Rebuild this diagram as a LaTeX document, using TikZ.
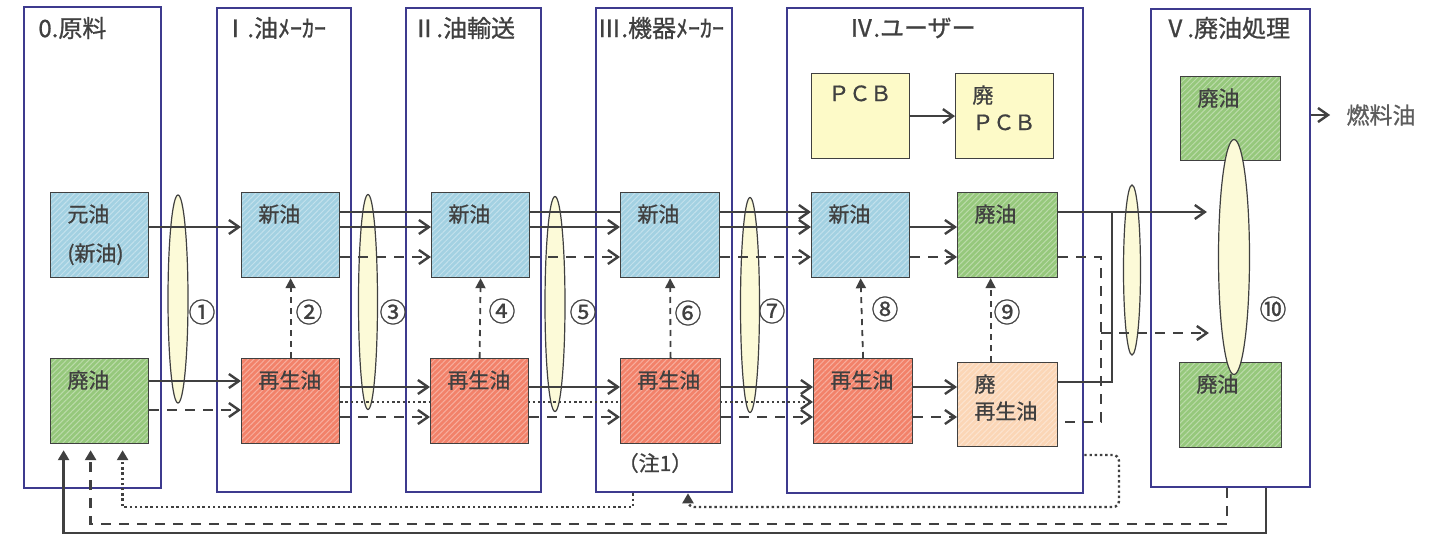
\documentclass[tikz,border=0pt]{standalone}
\usepackage{fontspec}
\setmainfont{Noto Sans CJK JP}[RawFeature={embolden=0.9}]
\usetikzlibrary{arrows.meta,fit,shapes.geometric,patterns.meta}

\definecolor{ink}{HTML}{404040}
\definecolor{frame}{HTML}{3D3A8E}
\definecolor{newblue}{HTML}{A3D1E2}
\definecolor{wastegreen}{HTML}{96C87C}
\definecolor{regenred}{HTML}{F2826A}
\definecolor{peach}{HTML}{FBD6B6}
\definecolor{pcbyellow}{HTML}{FDFAC8}
\definecolor{lensy}{HTML}{FCFAD8}

\pgfdeclarelayer{bg}
\pgfdeclarelayer{mid}
\pgfdeclarelayer{fg}
\pgfsetlayers{bg,mid,main,fg}

\tikzset{
  stage/.style={draw=frame, line width=1.3pt, inner sep=0pt},
  ttl/.style={anchor=west, inner sep=0pt, text=ink, font=\fontsize{12}{14}\selectfont},
  obox/.style={draw=ink, line width=0.6pt, anchor=north west, inner sep=0pt, minimum width=49pt, minimum height=42.5pt},
  hatch/.style={obox, preaction={fill=#1}, pattern={Lines[angle=45,distance=2pt,line width=0.5pt]}, pattern color=white!35!#1},
  otxt/.style={anchor=north west, inner sep=0pt, xshift=8.5pt, yshift=-6pt, align=left, text=ink, font=\fontsize{10.5}{13.5}\selectfont},
  lens/.style={ellipse, draw=ink, line width=0.6pt, fill=lensy, inner sep=0pt},
  num/.style={text=ink, inner sep=0pt, font=\fontsize{13.5}{14}\selectfont},
  flow/.style={draw=ink, line width=1.2pt, -{Straight Barb[length=5pt,width=7pt]}},
  fdash/.style={flow, dash pattern=on 5pt off 4pt},
  fdot/.style={flow, dash pattern=on 1.2pt off 1.4pt},
  wire/.style={draw=ink, line width=1.2pt},
  dwire/.style={wire, dash pattern=on 5pt off 4pt},
  recyc/.style={draw=ink, line width=0.9pt, dash pattern=on 3pt off 2.5pt, -{Triangle[length=5pt,width=5pt]}},
  back/.style={draw=ink, line width=1.2pt, -{Triangle[length=5pt,width=5.5pt]}},
}

\begin{document}
\begin{tikzpicture}[x=0.5pt,y=-0.5pt]

\useasboundingbox (0,0) rectangle (1447,534);

\begin{pgfonlayer}{bg}
\node[stage, fit={(24,7) (161,488)}] (s0) {};
\node[stage, fit={(217,8) (351,492)}] (s1) {};
\node[stage, fit={(406,8) (541,492)}] (s2) {};
\node[stage, fit={(596,8) (732,492)}] (s3) {};
\node[stage, fit={(787,8) (1083,493)}] (s4) {};
\node[stage, fit={(1151,9) (1310,487)}] (s5) {};

\node[lens, minimum width=10pt, minimum height=104pt] (g1) at (178,299) {};
\node[lens, minimum width=9.5pt, minimum height=107.5pt] (g2) at (368,302) {};
\node[lens, minimum width=10pt, minimum height=107.5pt] (g3) at (555,304) {};
\node[lens, minimum width=9.5pt, minimum height=107.5pt] (g4) at (750,305) {};
\node[lens, minimum width=8.5pt, minimum height=85pt] (g5) at (1132,270) {};
\end{pgfonlayer}

\node[ttl] (t0) at (38,28) {0.原料};
\node[ttl] (t1) at (223,28) {Ⅰ.油ﾒｰｶｰ};
\node[ttl] (t2) at (412,28) {Ⅱ.油輸送};
\node[ttl] (t3) at (597,28) {Ⅲ.機器ﾒｰｶｰ};
\node[ttl] (t4) at (849,28) {Ⅳ.ユーザー};
\node[ttl] (t5) at (1163,28) {Ⅴ.廃油処理};

\node[hatch=newblue] (gen) at (50,192) {};
\node[hatch=wastegreen] (hai0) at (50,358) {};
\node[hatch=newblue] (shin1) at (241,192) {};
\node[hatch=regenred] (sai1) at (241,358) {};
\node[hatch=newblue] (shin2) at (431,192) {};
\node[hatch=regenred] (sai2) at (430,358) {};
\node[hatch=newblue, minimum width=49.5pt] (shin3) at (620,192) {};
\node[hatch=regenred, minimum width=50pt] (sai3) at (620,358) {};
\node[hatch=newblue] (shin4) at (811,192) {};
\node[hatch=regenred, minimum width=49.5pt] (sai4) at (813,358) {};
\node[obox, fill=pcbyellow] (pcb) at (811,73) {};
\node[obox, fill=pcbyellow] (hpcb) at (955,73) {};
\node[hatch=wastegreen, minimum width=50pt] (hai4) at (957,192) {};
\node[hatch=peach, minimum width=50pt, minimum height=42pt] (hsai4) at (957,362) {};
\node[hatch=wastegreen, minimum width=50pt, minimum height=42pt] (hai5a) at (1180,76) {};
\node[hatch=wastegreen, minimum width=51pt] (hai5b) at (1179,362) {};

\node[otxt] (gent) at (gen.north west) {元油\\[6pt](新油)};
\node[otxt] (hai0t) at (hai0.north west) {廃油};
\node[otxt] (shin1t) at (shin1.north west) {新油};
\node[otxt] (sai1t) at (sai1.north west) {再生油};
\node[otxt] (shin2t) at (shin2.north west) {新油};
\node[otxt] (sai2t) at (sai2.north west) {再生油};
\node[otxt] (shin3t) at (shin3.north west) {新油};
\node[otxt] (sai3t) at (sai3.north west) {再生油};
\node[otxt] (shin4t) at (shin4.north west) {新油};
\node[otxt] (sai4t) at (sai4.north west) {再生油};
\node[otxt] (pcbt) at (pcb.north west) {ＰＣＢ};
\node[otxt] (hpcbt) at (hpcb.north west) {廃\\ＰＣＢ};
\node[otxt] (hai4t) at (hai4.north west) {廃油};
\node[otxt] (hsai4t) at (hsai4.north west) {廃\\再生油};
\node[otxt] (hai5at) at (hai5a.north west) {廃油};
\node[otxt] (hai5bt) at (hai5b.north west) {廃油};

\begin{pgfonlayer}{fg}
\node[lens, minimum width=15.5pt, minimum height=117.5pt] (g6) at (1234,257) {};
\end{pgfonlayer}

\node[num] (c1) at (202,312) {①};
\node[num] (c2) at (309,312) {②};
\node[num] (c3) at (393,312) {③};
\node[num] (c4) at (502,311) {④};
\node[num] (c5) at (583,312) {⑤};
\node[num] (c6) at (688,313) {⑥};
\node[num] (c7) at (772,311) {⑦};
\node[num] (c8) at (885,309) {⑧};
\node[num] (c9) at (1007,312) {⑨};
\node[num] (c10) at (1273,309) {⑩};

\node[text=ink, inner sep=0pt, font=\fontsize{10.5}{12}\selectfont] (note) at (655,463) {（注1）};
\node[text=ink!85, inner sep=0pt, font=\fontsize{11.5}{13}\selectfont] (fuel) at (1381,115) {燃料油};

\coordinate (ya) at (0,212);
\coordinate (yb) at (0,227);
\coordinate (yc) at (0,257);
\coordinate (yd) at (0,381);
\coordinate (ye) at (0,410);
\coordinate (yf) at (0,387);
\coordinate (yg) at (0,402);
\coordinate (yh) at (0,417);
\coordinate (yj) at (0,382);
\coordinate (yk) at (0,422);
\coordinate (jn) at (1112,212);
\coordinate (kd) at (1101,333);
\coordinate (r1) at (1266,533);
\coordinate (r2) at (1227,524);
\coordinate (r3) at (633,507);
\coordinate (r4) at (1119,507);
\coordinate (r5) at (1119,455);
\coordinate (r6) at (688,0);

\begin{pgfonlayer}{mid}
\draw[flow] (shin1.east |- ya) -- (shin4.west |- ya);
\draw[flow] (gen.east |- yb) -- (shin1.west |- yb);
\draw[flow] (shin1.east |- yb) -- (shin2.west |- yb);
\draw[flow] (shin2.east |- yb) -- (shin3.west |- yb);
\draw[flow] (shin3.east |- yb) -- (shin4.west |- yb);
\draw[flow] (shin4.east |- yb) -- (hai4.west |- yb);
\draw[fdash] (shin1.east |- yc) -- (shin2.west |- yc);
\draw[fdash] (shin2.east |- yc) -- (shin3.west |- yc);
\draw[fdash] (shin3.east |- yc) -- (shin4.west |- yc);
\draw[fdash] (shin4.east |- yc) -- (hai4.west |- yc);

\draw[flow] (hai0.east |- yd) -- (sai1.west |- yd);
\draw[fdash] (hai0.east |- ye) -- (sai1.west |- ye);
\draw[flow] (sai1.east |- yf) -- (sai2.west |- yf);
\draw[flow] (sai2.east |- yf) -- (sai3.west |- yf);
\draw[flow] (sai3.east |- yf) -- (sai4.west |- yf);
\draw[flow] (sai4.east |- yf) -- (hsai4.west |- yf);
\draw[fdot] (sai1.east |- yg) -- (sai4.west |- yg);
\draw[fdash] (sai1.east |- yh) -- (sai2.west |- yh);
\draw[fdash] (sai2.east |- yh) -- (sai3.west |- yh);
\draw[fdash] (sai3.east |- yh) -- (sai4.west |- yh);
\draw[fdash] (sai4.east |- yh) -- (hsai4.west |- yh);

\draw[recyc] (sai1.north) -- (shin1.south);
\draw[recyc] (sai2.north) -- (shin2.south);
\draw[recyc] (sai3.north) -- (shin3.south);
\draw[recyc] (sai4.north) -- (shin4.south);
\draw[recyc] ([xshift=-8.5pt]hsai4.north) -- ([xshift=-8.5pt]hsai4.north |- hai4.south);
\draw[flow] (pcb) -- (hpcb);

\draw[flow, shorten >=5.5pt] (hai4.east |- ya) -- (g6.west |- ya);
\draw[wire] (hsai4.east |- yj) -| (jn);
\draw[dwire] (hai4.east |- yc) -| (kd) |- (hsai4.east |- yk);
\draw[fdash, shorten >=4.5pt] (kd) -- (g6.west |- kd);
\draw[flow, shorten >=8pt] (s5.east |- fuel) -- (fuel.west);

\draw[back] (s5.south -| r1) -- (r1) -| ([shift={(-18pt,-3pt)}]hai0.south);
\draw[back, dash pattern=on 5pt off 4pt] (s5.south -| r2) -- (r2) -| ([shift={(-4.5pt,-3pt)}]hai0.south);
\draw[back, dash pattern=on 1.2pt off 1.4pt] (s3.south -| r3) -- (r3) -| ([shift={(11.5pt,-3pt)}]hai0.south);
\draw[back, dash pattern=on 1.2pt off 1.4pt, rounded corners=3pt] (s4.east |- r5) -- (r5) -- (r4) -| (s3.south -| r6);
\end{pgfonlayer}

\end{tikzpicture}
\end{document}
